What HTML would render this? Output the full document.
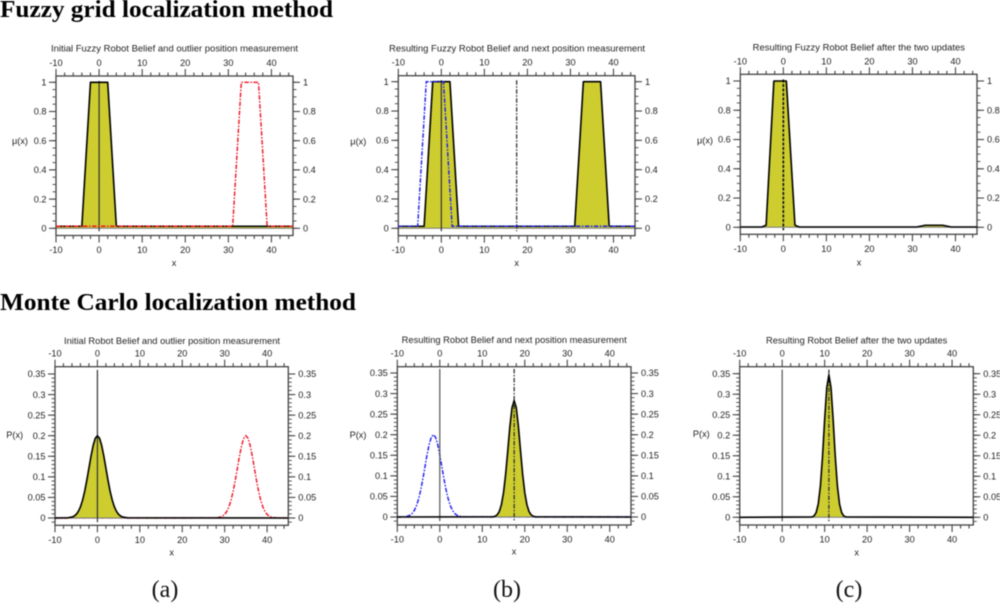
<!DOCTYPE html>
<html lang="en">
<head>
<meta charset="utf-8">
<title>Fuzzy grid and Monte Carlo localization methods</title>
<style>
html,body{margin:0;padding:0;background:#fff;width:1000px;height:604px;overflow:hidden}
svg{display:block;filter:blur(0.4px)}
.heading{font-family:"Liberation Serif",serif;font-weight:bold;font-size:24px;fill:#000}
.caption{font-family:"Liberation Serif",serif;font-size:24px;fill:#111;text-anchor:middle}
.lbl{font-family:"Liberation Sans",sans-serif;font-size:9.2px;fill:#222}
</style>
</head>
<body>
<svg id="figure" width="1000" height="604" viewBox="0 0 1000 604" xmlns="http://www.w3.org/2000/svg">
<text class="heading" x="0" y="17" textLength="333" lengthAdjust="spacingAndGlyphs">Fuzzy grid localization method</text>
<text class="heading" x="0" y="310" textLength="356" lengthAdjust="spacingAndGlyphs">Monte Carlo localization method</text>
<text class="caption" x="165" y="597">(a)</text>
<text class="caption" x="507" y="597">(b)</text>
<text class="caption" x="849" y="597">(c)</text>
</svg>
<script>
// Shared axis data
const xTickValues = [-10, 0, 10, 20, 30, 40];
const fuzzyYTicks = [0, 0.2, 0.4, 0.6, 0.8, 1];
const mcYTicks = [0, 0.05, 0.1, 0.15, 0.2, 0.25, 0.3, 0.35];

// Fuzzy panel (a)
const fuzzyBeliefAX = [-10, -4, -2, 2, 4, 45];
const fuzzyBeliefAY = [0.014, 0.014, 1, 1, 0.014, 0.014];
const fuzzyMeasureAX = [-10, 31, 33, 37, 39, 45];
const fuzzyMeasureAY = [0.014, 0.014, 1, 1, 0.014, 0.014];

// Fuzzy panel (b)
const fuzzyBeliefBX = [-10, -4, -2, 2, 4, 31, 33, 37, 39, 45];
const fuzzyBeliefBY = [0.014, 0.014, 1, 1, 0.014, 0.014, 1, 1, 0.014, 0.014];
const fuzzyMeasureBX = [-10, -5.5, -3.5, 0.5, 2.5, 45];
const fuzzyMeasureBY = [0.014, 0.014, 1, 1, 0.014, 0.014];

// Fuzzy panel (c)
const fuzzyBeliefCX = [-10, -5, -4, -2.2, 0.7, 2.7, 3.7, 31, 33, 37, 39, 45];
const fuzzyBeliefCY = [0.002, 0.002, 0.014, 1, 1, 0.014, 0.002, 0.002, 0.014, 0.014, 0.002, 0.002];

// Monte Carlo panel (a)
const mcBeliefAX = [-10, -7, -6, -5.5, -5, -4.5, -4, -3.5, -3, -2.5, -2, -1.5, -1, -0.5, 0, 0.5, 1, 1.5, 2, 2.5, 3, 3.5, 4, 4.5, 5, 5.5, 6, 7, 45];
const mcBeliefAY = [0, 0.0004, 0.0022, 0.0045, 0.0088, 0.0159, 0.0271, 0.0433, 0.0649, 0.0916, 0.1213, 0.151, 0.1765, 0.1939, 0.2, 0.1939, 0.1765, 0.151, 0.1213, 0.0916, 0.0649, 0.0433, 0.0271, 0.0159, 0.0088, 0.0045, 0.0022, 0.0004, 0];
const mcMeasureAX = [-10, 28, 29, 29.5, 30, 30.5, 31, 31.5, 32, 32.5, 33, 33.5, 34, 34.5, 35, 35.5, 36, 36.5, 37, 37.5, 38, 38.5, 39, 39.5, 40, 40.5, 41, 42, 45];
const mcMeasureAY = [0, 0.0004, 0.0022, 0.0045, 0.0088, 0.0159, 0.0271, 0.0433, 0.0649, 0.0916, 0.1213, 0.151, 0.1765, 0.1939, 0.2, 0.1939, 0.1765, 0.151, 0.1213, 0.0916, 0.0649, 0.0433, 0.0271, 0.0159, 0.0088, 0.0045, 0.0022, 0.0004, 0];

// Monte Carlo panel (b)
const mcBeliefBX = [-10, 12.5, 13, 13.5, 14, 14.5, 15, 15.5, 16, 16.5, 17, 17.5, 18, 18.5, 19, 19.5, 20, 20.5, 21, 21.5, 22, 22.5, 45];
const mcBeliefBY = [0, 0.0005, 0.0018, 0.0052, 0.0133, 0.0299, 0.0593, 0.1041, 0.1613, 0.2204, 0.2659, 0.283, 0.2659, 0.2204, 0.1613, 0.1041, 0.0593, 0.0299, 0.0133, 0.0052, 0.0018, 0.0005, 0];
const mcMeasureBX = [-10, -8.5, -7.5, -7, -6.5, -6, -5.5, -5, -4.5, -4, -3.5, -3, -2.5, -2, -1.5, -1, -0.5, 0, 0.5, 1, 1.5, 2, 2.5, 3, 3.5, 4, 4.5, 5.5, 45];
const mcMeasureBY = [0, 0.0004, 0.0022, 0.0045, 0.0088, 0.0159, 0.0271, 0.0433, 0.0649, 0.0916, 0.1213, 0.151, 0.1765, 0.1939, 0.2, 0.1939, 0.1765, 0.151, 0.1213, 0.0916, 0.0649, 0.0433, 0.0271, 0.0159, 0.0088, 0.0045, 0.0022, 0.0004, 0];

// Monte Carlo panel (c)
const mcBeliefCX = [-10, 7, 7.5, 8, 8.5, 9, 9.5, 10, 10.5, 11, 11.5, 12, 12.5, 13, 13.5, 14, 14.5, 15, 45];
const mcBeliefCY = [0, 0.0008, 0.0034, 0.0115, 0.0327, 0.0765, 0.1482, 0.2378, 0.3157, 0.347, 0.3157, 0.2378, 0.1482, 0.0765, 0.0327, 0.0115, 0.0034, 0.0008, 0];

const NS = 'http://www.w3.org/2000/svg';
const figure = document.getElementById('figure');
const FRAME = '#444';
const DASH = '4.5 1.5 1.5 1.5';

function make(tag, attrs, parent, text) {
  const node = document.createElementNS(NS, tag);
  for (const key in attrs) node.setAttribute(key, attrs[key]);
  if (text !== undefined) node.textContent = text;
  parent.appendChild(node);
  return node;
}
function fmt(v) { return String(v); }
function linePath(xs, ys, sx, sy) {
  return xs.map((x, i) => (i ? 'L' : 'M') + sx(x).toFixed(2) + ' ' + sy(ys[i]).toFixed(2)).join('');
}

function drawPanel(p) {
  const g = make('g', {}, figure);
  
  
  const sx = v => p.left + (v + 10) * (p.right - p.left) / 55;
  const sy = v => p.zeroY - v * (p.zeroY - p.refY) / p.refVal;

  // Monte Carlo panels: measurement sits beneath the fill and belief line
  if (p.measureX && !p.measureOnTop) {
    const measUnder = make('path', { d: linePath(p.measureX, p.measureY, sx, sy), fill: 'none', stroke: p.measureColor, 'stroke-width': 1.4, 'stroke-dasharray': DASH }, g);
    
    
  }

  // belief fill
  const fillPath = linePath(p.beliefX, p.beliefY, sx, sy) + 'L' + sx(45) + ' ' + sy(0) + 'L' + sx(-10) + ' ' + sy(0) + 'Z';
  const fill = make('path', { d: fillPath, fill: '#cdcd30', stroke: 'none' }, g);
  
  

  // zero reference line
  const zero = make('line', { x1: p.left, x2: p.right, y1: sy(0), y2: sy(0), stroke: '#777', 'stroke-width': 1 }, g);
  
  

  // vertical position markers
  p.markers.forEach(m => {
    const line = make('line', { x1: sx(m.x), x2: sx(m.x), y1: sy(p.markerTop), y2: sy(p.markerBottom), stroke: m.color, 'stroke-width': m.width, 'stroke-dasharray': m.dash || 'none' }, g);
    
    
  });

  // frame
  const frame = make('rect', { x: p.left, y: p.top, width: p.right - p.left, height: p.bottom - p.top, fill: 'none', stroke: FRAME, 'stroke-width': 1.3 }, g);
  
  

  // belief line
  const belief = make('path', { d: linePath(p.beliefX, p.beliefY, sx, sy), fill: 'none', stroke: '#000', 'stroke-width': 1.6, 'stroke-linejoin': 'round' }, g);
  
  

  // fuzzy panels: measurement sits above the belief line
  if (p.measureX && p.measureOnTop) {
    const measTop = make('path', { d: linePath(p.measureX, p.measureY, sx, sy), fill: 'none', stroke: p.measureColor, 'stroke-width': 1.4, 'stroke-dasharray': DASH }, g);
    
    
  }

  // x ticks
  for (let v = -10; v <= 44; v += 2) {
    const major = v % 10 === 0;
    const len = major ? 7 : 3.5;
    const tickTop = make('line', { x1: sx(v), x2: sx(v), y1: p.top, y2: p.top - len, stroke: FRAME, 'stroke-width': 1.1 }, g);
    
    
    const tickBot = make('line', { x1: sx(v), x2: sx(v), y1: p.bottom, y2: p.bottom + len, stroke: FRAME, 'stroke-width': 1.1 }, g);
    
    
  }
  xTickValues.forEach(v => {
    const labelTop = make('text', { class: 'lbl', x: sx(v), y: p.top - 10, 'text-anchor': 'middle' }, g, fmt(v));
    
    
    const labelBot = make('text', { class: 'lbl', x: sx(v), y: p.bottom + 17.5, 'text-anchor': 'middle' }, g, fmt(v));
    
    
  });

  // y minor ticks
  const steps = Math.round(p.yMax / p.yMinor);
  for (let i = -Math.round(p.yBelow / p.yMinor); i <= steps; i++) {
    const v = i * p.yMinor;
    const yy = sy(v);
    if (yy < p.top || yy > p.bottom) continue;
    const tickL = make('line', { x1: p.left, x2: p.left - 3.5, y1: yy, y2: yy, stroke: FRAME, 'stroke-width': 0.9 }, g);
    
    
    const tickR = make('line', { x1: p.right, x2: p.right + 3.5, y1: yy, y2: yy, stroke: FRAME, 'stroke-width': 0.9 }, g);
    
    
  }
  p.yTicks.forEach(v => {
    const yy = sy(v);
    const majorL = make('line', { x1: p.left, x2: p.left - 7, y1: yy, y2: yy, stroke: FRAME, 'stroke-width': 1.1 }, g);
    
    
    const majorR = make('line', { x1: p.right, x2: p.right + 7, y1: yy, y2: yy, stroke: FRAME, 'stroke-width': 1.1 }, g);
    
    
    const labelL = make('text', { class: 'lbl', x: p.left - 9.5, y: yy + 3.2, 'text-anchor': 'end' }, g, fmt(v));
    
    
    const labelR = make('text', { class: 'lbl', x: p.right + 10, y: yy + 3.2, 'text-anchor': 'start' }, g, fmt(v));
    
    
  });

  // titles
  const title = make('text', { class: 'lbl', x: p.titleL, y: p.titleY, textLength: p.titleR - p.titleL, lengthAdjust: 'spacingAndGlyphs' }, g, p.title);
  
  
  const xTitle = make('text', { class: 'lbl', x: p.xLabel[0], y: p.xLabel[1] + 3, 'text-anchor': 'middle' }, g, 'x');
  
  
  const yTitle = make('text', { class: 'lbl', x: p.yLabel[0], y: p.yLabel[1] + 3, 'text-anchor': 'middle' }, g, p.yText);
  
  
}

const DARK = '#333';
const fuzzyAxis = { yTicks: fuzzyYTicks, refVal: 1, yMax: 1, yMinor: 0.05, yBelow: 0, markerTop: 1.01, markerBottom: -0.02, yText: 'μ(x)' };
const mcAxis = { yTicks: mcYTicks, refVal: 0.35, yMax: 0.35, yMinor: 0.01, yBelow: 0.01, markerTop: 0.36, markerBottom: -0.01, yText: 'P(x)' };

drawPanel(Object.assign({}, fuzzyAxis, {
  name: 'fuzzy-chart-a', left: 56, right: 293, top: 76, bottom: 235.5, zeroY: 228.3, refY: 82.3,
  title: 'Initial Fuzzy Robot Belief and outlier position measurement', titleL: 51, titleR: 298, titleY: 51.3,
  xLabel: [174, 263], yLabel: [20, 141],
  beliefX: fuzzyBeliefAX, beliefY: fuzzyBeliefAY, measureX: fuzzyMeasureAX, measureY: fuzzyMeasureAY, measureColor: '#f01020', measureOnTop: true,
  markers: [{ x: 0, color: DARK, width: 1.2 }]
}));
drawPanel(Object.assign({}, fuzzyAxis, {
  name: 'fuzzy-chart-b', left: 398.3, right: 635, top: 75.7, bottom: 235.7, zeroY: 228.3, refY: 81.7,
  title: 'Resulting Fuzzy Robot Belief and next position measurement', titleL: 389, titleR: 645, titleY: 51.5,
  xLabel: [516.7, 263], yLabel: [358.3, 141.7],
  beliefX: fuzzyBeliefBX, beliefY: fuzzyBeliefBY, measureX: fuzzyMeasureBX, measureY: fuzzyMeasureBY, measureColor: '#1a1af0', measureOnTop: true,
  markers: [{ x: 0, color: DARK, width: 1.2 }, { x: 17.5, color: DARK, width: 1.3, dash: DASH }]
}));
drawPanel(Object.assign({}, fuzzyAxis, {
  name: 'fuzzy-chart-c', left: 740.3, right: 977, top: 74.3, bottom: 234.3, zeroY: 227.3, refY: 81,
  title: 'Resulting Fuzzy Robot Belief after the two updates', titleL: 752.7, titleR: 965, titleY: 50.5,
  xLabel: [859, 262.7], yLabel: [705, 140.3],
  beliefX: fuzzyBeliefCX, beliefY: fuzzyBeliefCY,
  markers: [{ x: 0, color: '#111', width: 1.6, dash: '3 1.5' }]
}));
drawPanel(Object.assign({}, mcAxis, {
  name: 'monte-carlo-chart-a', left: 55, right: 288.3, top: 366.7, bottom: 525.3, zeroY: 518, refY: 374,
  title: 'Initial Robot Belief and outlier position measurement', titleL: 64, titleR: 280, titleY: 344,
  xLabel: [171.7, 552.7], yLabel: [14.7, 435],
  beliefX: mcBeliefAX, beliefY: mcBeliefAY, measureX: mcMeasureAX, measureY: mcMeasureAY, measureColor: '#f01020',
  markers: [{ x: 0, color: DARK, width: 1.2 }]
}));
drawPanel(Object.assign({}, mcAxis, {
  name: 'monte-carlo-chart-b', left: 397.3, right: 631, top: 366.7, bottom: 525, zeroY: 517, refY: 373,
  title: 'Resulting Robot Belief and next position measurement', titleL: 401.7, titleR: 626.7, titleY: 343,
  xLabel: [514, 551.7], yLabel: [358, 435],
  beliefX: mcBeliefBX, beliefY: mcBeliefBY, measureX: mcMeasureBX, measureY: mcMeasureBY, measureColor: '#1a1af0',
  markers: [{ x: 0, color: '#555', width: 1.2 }, { x: 17.5, color: DARK, width: 1.3, dash: DASH }]
}));
drawPanel(Object.assign({}, mcAxis, {
  name: 'monte-carlo-chart-c', left: 739.7, right: 973.3, top: 366.7, bottom: 525, zeroY: 517.3, refY: 373.7,
  title: 'Resulting Robot Belief after the two updates', titleL: 766, titleR: 947.3, titleY: 343.3,
  xLabel: [856.7, 552.3], yLabel: [701.3, 434],
  beliefX: mcBeliefCX, beliefY: mcBeliefCY,
  markers: [{ x: 0, color: '#555', width: 1.2 }, { x: 11, color: DARK, width: 1.3, dash: DASH }]
}));
</script>
</body>
</html>
